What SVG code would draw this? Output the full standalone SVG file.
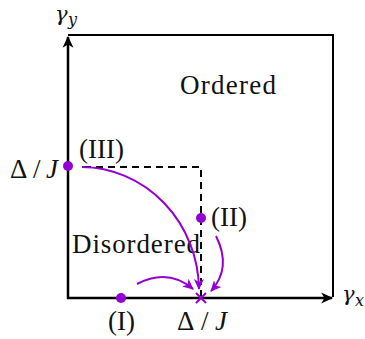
<svg xmlns="http://www.w3.org/2000/svg" width="365" height="339" viewBox="0 0 365 339">
<style>
.t{font-family:"Liberation Serif",serif;font-size:27px;fill:#111}
.m{font-family:"DejaVu Serif","Liberation Serif",serif;font-style:italic;fill:#111}
.ax{stroke:#000;stroke-width:2.5;fill:none}
.bd{stroke:#000;stroke-width:2;fill:none}
.ds{stroke:#000;stroke-width:2;fill:none;stroke-dasharray:7 5}
.fl{stroke:#9400d3;stroke-width:2;fill:none}
.dot{fill:#9400d3}
</style>
<defs>
<marker id="ak" viewBox="0 0 12 12" refX="10" refY="6" markerWidth="13" markerHeight="13" markerUnits="userSpaceOnUse" orient="auto">
<path d="M0 1 L11 6 L0 11 L3 6 Z" fill="#000"/>
</marker>
<marker id="ap" viewBox="0 0 12 12" refX="10" refY="6" markerWidth="12" markerHeight="12" markerUnits="userSpaceOnUse" orient="auto">
<path d="M0 1 L11 6 L0 11 L3 6 Z" fill="#9400d3"/>
</marker>
</defs>
<g id="frame">
<path class="bd" d="M68 35 H333 V297"/>
<path class="ax" d="M68 299 V37" marker-end="url(#ak)"/>
<path class="ax" d="M67 298 H332" marker-end="url(#ak)"/>
<path class="ds" d="M84 167 H201 V296"/>
</g>
<g id="axis-labels">
<text class="m" x="55" y="21" font-size="21">γ</text><text class="m" x="68" y="25" font-size="16">y</text>
<text class="m" x="342" y="301" font-size="21">γ</text><text class="m" x="355" y="306" font-size="16">x</text>
<text class="t" x="10" y="178" textLength="48"><tspan>Δ/</tspan><tspan font-style="italic">J</tspan></text>
<text class="t" x="177" y="330" textLength="50"><tspan>Δ/</tspan><tspan font-style="italic">J</tspan></text>
</g>
<g id="regions">
<text class="t" x="180" y="94" textLength="96">Ordered</text>
<text class="t" x="72" y="253" textLength="128">Disordered</text>
</g>
<g id="point-III">
<circle class="dot" cx="68" cy="166" r="5"/>
<text class="t" x="79" y="158">(III)</text>
</g>
<g id="point-II">
<circle class="dot" cx="201" cy="218" r="5"/>
<text class="t" x="211" y="226">(II)</text>
</g>
<g id="point-I">
<circle class="dot" cx="121" cy="298" r="5"/>
<text class="t" x="108" y="330">(I)</text>
</g>
<g id="fixed-point">
<path class="fl" stroke-width="1.5" d="M196 293 L206 303 M206 293 L196 303"/>
</g>
<g id="flows">
<path class="fl" d="M82 167 A118 124 0 0 1 199 289" marker-end="url(#ap)"/>
<path class="fl" d="M216 236 Q232 268 211 291" marker-end="url(#ap)"/>
<path class="fl" d="M137 284 Q168 268 193 289" marker-end="url(#ap)"/>
</g>
</svg>
